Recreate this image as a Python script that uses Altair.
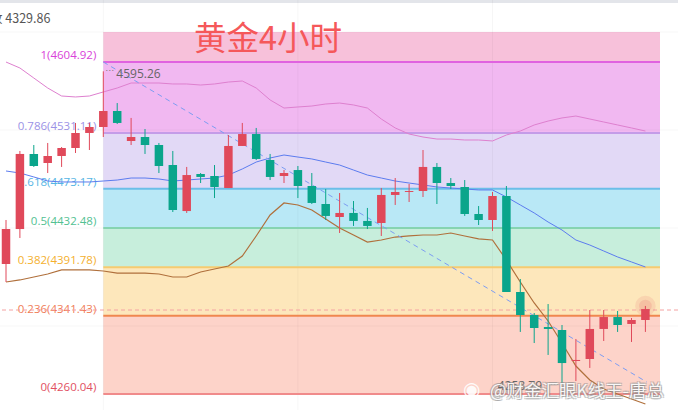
import altair as alt
import pandas as pd

# ---------------- data ----------------
opens = [4395.1, 4431.4, 4509.4, 4500.0, 4507.3, 4515.6, 4531.2, 4537.4, 4554.0, 4522.9,
         4527.0, 4518.7, 4497.9, 4450.1, 4488.6, 4486.5, 4474.0, 4517.7, 4530.1, 4503.1,
         4486.5, 4492.7, 4476.1, 4457.4, 4443.9, 4448.1, 4439.8, 4437.7, 4466.8, 4469.9,
         4470.9, 4495.9, 4479.2, 4475.1, 4447.0, 4440.8, 4465.7, 4366.0, 4342.1, 4329.6,
         4326.5, 4294.3, 4296.4, 4327.6, 4340.0, 4332.8, 4336.9]
closes = [4431.4, 4509.4, 4496.9, 4507.3, 4515.6, 4531.2, 4537.4, 4554.0, 4541.6, 4527.0,
          4518.7, 4496.9, 4451.2, 4487.5, 4485.5, 4475.1, 4517.7, 4530.1, 4504.2, 4485.5,
          4489.6, 4476.1, 4458.5, 4445.0, 4448.1, 4439.8, 4434.6, 4466.8, 4469.9, 4470.9,
          4495.9, 4479.2, 4476.1, 4447.0, 4440.8, 4465.7, 4366.0, 4342.1, 4328.6, 4327.6,
          4292.2, 4295.4, 4327.6, 4340.0, 4331.7, 4336.9, 4348.3]
highs = [4440.8, 4512.5, 4518.7, 4520.8, 4516.6, 4541.6, 4541.6, 4595.26, 4562.3, 4546.8,
         4535.3, 4520.8, 4512.5, 4495.9, 4489.6, 4497.9, 4529.1, 4541.6, 4536.4, 4509.4,
         4492.7, 4496.9, 4489.6, 4473.0, 4468.8, 4460.5, 4453.3, 4474.0, 4484.4, 4478.2,
         4513.5, 4500.0, 4484.4, 4482.3, 4455.3, 4469.9, 4476.1, 4379.5, 4344.2, 4353.5,
         4331.7, 4317.2, 4347.3, 4347.3, 4346.3, 4339.0, 4351.5]
lows = [4376.4, 4422.1, 4495.9, 4489.6, 4495.9, 4510.4, 4513.5, 4527.0, 4540.5, 4518.7,
        4509.4, 4489.6, 4449.1, 4448.1, 4479.2, 4463.6, 4474.0, 4517.7, 4503.1, 4482.3,
        4479.2, 4463.6, 4457.4, 4440.8, 4427.3, 4434.6, 4431.4, 4424.2, 4456.4, 4459.5,
        4464.7, 4457.4, 4473.0, 4445.0, 4435.6, 4429.4, 4366.0, 4324.5, 4313.0, 4300.6,
        4269.4, 4273.5, 4287.1, 4315.1, 4324.5, 4314.1, 4324.5]

ma_pink = [4604.9, 4598.7, 4588.3, 4577.9, 4569.6, 4568.6, 4569.6, 4573.8, 4577.9, 4583.1,
           4583.1, 4583.1, 4582.1, 4582.1, 4581.0, 4582.1, 4584.1, 4585.2, 4577.9, 4565.5,
           4557.1, 4558.2, 4559.2, 4561.3, 4562.3, 4560.3, 4557.1, 4545.7, 4536.4, 4530.1,
           4527.0, 4524.9, 4524.9, 4523.9, 4523.9, 4522.9, 4529.1, 4533.2, 4539.5, 4543.6,
           4546.8, 4548.8, 4545.7, 4542.6, 4539.5, 4536.4, 4533.2]
ma_blue = [4491.7, 4489.6, 4485.5, 4481.3, 4480.3, 4480.3, 4480.3, 4481.3, 4482.3, 4484.4,
           4484.4, 4483.4, 4481.3, 4482.3, 4483.4, 4484.4, 4487.5, 4493.8, 4501.0, 4505.2,
           4508.3, 4506.2, 4504.2, 4501.0, 4497.9, 4492.7, 4487.5, 4484.4, 4481.3, 4479.2,
           4477.2, 4475.1, 4474.0, 4473.0, 4472.0, 4472.0, 4464.7, 4456.4, 4448.1, 4438.7,
           4430.4, 4420.0, 4414.8, 4408.6, 4402.4, 4397.2, 4392.0]
ma_brown = [4376.4, 4378.5, 4381.6, 4384.7, 4388.9, 4388.9, 4388.9, 4387.8, 4385.7, 4385.7,
            4385.7, 4384.7, 4381.6, 4381.6, 4386.8, 4389.9, 4393.0, 4403.4, 4424.2, 4446.0,
            4458.5, 4456.4, 4451.2, 4441.8, 4432.5, 4425.2, 4417.9, 4420.0, 4423.1, 4424.2,
            4425.2, 4425.2, 4427.3, 4424.2, 4421.1, 4420.0, 4399.2, 4376.4, 4354.6, 4335.9,
            4313.0, 4289.1, 4274.6, 4265.2, 4260.0, 4254.8, 4249.7]

fib_ratios = ["1", "0.786", "0.618", "0.5", "0.382", "0.236", "0"]
fib_prices = [4604.92, 4531.11, 4473.17, 4432.48, 4391.78, 4341.43, 4260.04]
fib_band_top = 4636.1
fib_start, fib_end = 7, 47.05
band_colors = ["#f7c1da", "#f1b8f1", "#e2d9f6", "#b9e8f6", "#c7eedc", "#fde7bb", "#fdd3c9"]
line_colors = ["#e062e0", "#c49ce8", "#6cbee8", "#86d4b1", "#f6cb70", "#f0874f", "#f08b8b"]
label_colors = ["#d942d9", "#9b92e6", "#55b5e4", "#52c192", "#f4b02e", "#f07d58", "#e14f61"]

grid_prices = [4330.7, 4432.5, 4534.3, 4636.1]
grid_idx = [7, 21, 35]

trend_idx = [7, 46.1]
trend_val = [4604.92, 4272.5]

high_label, high_idx = "4595.26", 7
low_label, low_idx = "4258.79", 40
last_price = 4347.3
top_text = "收 4329.86"
title = "黄金4小时"
watermark = "@财金汇眼K线王-唐总"

UP, DOWN = "#e0495a", "#0aa58b"

# ---------------- scales ----------------
XS = alt.Scale(domain=[-0.432, 48.345], nice=False, zero=False, padding=0)
YS = alt.Scale(domain=[4243.42, 4669.33], nice=False, zero=False, padding=0)

def X(f="i"):
    return alt.X(f + ":Q", scale=XS, axis=None)

def Y(f):
    return alt.Y(f + ":Q", scale=YS, axis=None)

n = len(opens)
candles = pd.DataFrame({
    "i": list(range(n)), "o": opens, "c": closes, "h": highs, "l": lows,
})
candles["col"] = [UP if c >= o else DOWN for o, c in zip(opens, closes)]

bands = pd.DataFrame({
    "x1": [fib_start] * 7, "x2": [fib_end] * 7,
    "y1": [fib_band_top] + fib_prices[:-1],
    "y2": fib_prices,
    "col": band_colors,
})
fibs = pd.DataFrame({
    "x1": [fib_start] * 7, "x2": [fib_end] * 7,
    "y": fib_prices, "col": line_colors, "lcol": label_colors,
    "txt": [f"{r}({p:.2f})" for r, p in zip(fib_ratios, fib_prices)],
})

layers = []

# top grey strip
layers.append(alt.Chart(pd.DataFrame({"a": [0]})).mark_rect(color="#e3e5ea").encode(
    x=alt.value(0), x2=alt.value(678), y=alt.value(0), y2=alt.value(3)))

# bands
layers.append(alt.Chart(bands).mark_rect().encode(
    x=X("x1"), x2="x2", y=Y("y1"), y2="y2", color=alt.Color("col:N", scale=None)))

# gridlines
layers.append(alt.Chart(pd.DataFrame({"g": grid_prices})).mark_rule(
    color="#000000", opacity=0.035, strokeWidth=1).encode(y=Y("g")))
layers.append(alt.Chart(pd.DataFrame({"g": grid_idx})).mark_rule(
    color="#000000", opacity=0.035, strokeWidth=1).encode(x=X("g")))

# fib lines
layers.append(alt.Chart(fibs).mark_rule(strokeWidth=2).encode(
    x=X("x1"), x2="x2", y=Y("y"), color=alt.Color("col:N", scale=None)))

# fib labels
layers.append(alt.Chart(fibs).mark_text(
    align="right", baseline="bottom", dx=-7, dy=-1, fontSize=11.5, font="Open Sans").encode(
    x=X("x1"), y=Y("y"), text="txt:N", color=alt.Color("lcol:N", scale=None)))

# current price dashed line
layers.append(alt.Chart(pd.DataFrame({"p": [last_price]})).mark_rule(
    color="#f4a2a2", strokeDash=[4, 3], strokeWidth=1).encode(y=Y("p")))

# moving averages
for vals, col, w in [(ma_pink, "#de80cf", 1), (ma_blue, "#5c7cef", 1), (ma_brown, "#b0703c", 1.2)]:
    df = pd.DataFrame({"i": list(range(len(vals))), "v": vals})
    layers.append(alt.Chart(df).mark_line(color=col, strokeWidth=w).encode(x=X("i"), y=Y("v")))

# trend line
layers.append(alt.Chart(pd.DataFrame({"i": trend_idx, "v": trend_val})).mark_line(
    color="#7d9df2", strokeDash=[5, 4], strokeWidth=1).encode(x=X("i"), y=Y("v")))

# glow on last candle
last = pd.DataFrame({"i": [n - 1], "v": [highs[-1]]})
layers.append(alt.Chart(last).mark_circle(color=UP, opacity=0.12, size=420).encode(x=X("i"), y=Y("v")))
layers.append(alt.Chart(last).mark_circle(color=UP, opacity=0.15, size=160).encode(x=X("i"), y=Y("v")))

# candles
layers.append(alt.Chart(candles).mark_rule(strokeWidth=1).encode(
    x=X("i"), y=Y("l"), y2="h", color=alt.Color("col:N", scale=None)))
layers.append(alt.Chart(candles).mark_bar(size=8.5).encode(
    x=X("i"), y=Y("o"), y2="c", color=alt.Color("col:N", scale=None)))

# high / low labels
hl = pd.DataFrame({"i": [high_idx], "v": [highs[high_idx]], "t": [high_label]})
layers.append(alt.Chart(hl).mark_text(
    align="left", baseline="middle", dx=13, dy=3, fontSize=12, color="#666666", font="Open Sans").encode(
    x=X("i"), y=Y("v"), text="t:N"))
layers.append(alt.Chart(hl).mark_text(
    align="left", baseline="middle", dx=2, dy=-1, fontSize=9, color="#777777").encode(
    x=X("i"), y=Y("v"), text=alt.value("···")))
ll = pd.DataFrame({"i": [low_idx], "v": [lows[low_idx]], "t": [low_label]})
layers.append(alt.Chart(ll).mark_text(
    align="right", baseline="middle", dx=-20, dy=1, fontSize=12, color="#666666", font="Open Sans").encode(
    x=X("i"), y=Y("v"), text="t:N"))
layers.append(alt.Chart(ll).mark_text(
    align="right", baseline="middle", dx=-3, dy=-1, fontSize=9, color="#777777").encode(
    x=X("i"), y=Y("v"), text=alt.value("····")))

# top-left text
layers.append(alt.Chart(pd.DataFrame({"t": [top_text]})).mark_text(
    align="left", baseline="middle", fontSize=12.5, color="#555555", font="Noto Sans CJK SC").encode(
    x=alt.value(-10), y=alt.value(19), text="t:N"))

# title
layers.append(alt.Chart(pd.DataFrame({"t": [title]})).mark_text(
    align="left", baseline="middle", fontSize=32.5, color="#f5585a", font="Noto Sans CJK SC").encode(
    x=alt.value(194), y=alt.value(40), text="t:N"))

# watermark (grey shadow + white text)
wm = pd.DataFrame({"t": [watermark]})
for dx, dy in [(1, 1), (-1, -1), (1, -1), (-1, 1)]:
    layers.append(alt.Chart(wm).mark_text(
        align="left", baseline="middle", fontSize=17.5, color="#8a8a8a", opacity=0.45,
        font="Noto Sans CJK SC", dx=dx, dy=dy).encode(
        x=alt.value(490), y=alt.value(392), text="t:N"))
layers.append(alt.Chart(wm).mark_text(
    align="left", baseline="middle", fontSize=17.5, color="#ffffff", opacity=0.9,
    font="Noto Sans CJK SC").encode(x=alt.value(490), y=alt.value(392), text="t:N"))
layers.append(alt.Chart(wm).mark_text(
    align="left", baseline="middle", fontSize=20, color="#ffffff", opacity=0.9,
    font="DejaVu Sans").encode(x=alt.value(463), y=alt.value(390), text=alt.value("◉")))

chart = alt.layer(*layers).properties(
    width=678, height=410, padding=0, autosize="none", background="#ffffff"
).configure_view(stroke=None)

chart.save("out.html", embed_options={"renderer": "svg", "actions": False})
